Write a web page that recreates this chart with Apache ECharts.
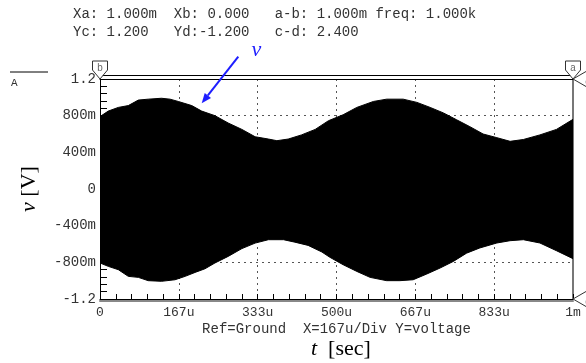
<!DOCTYPE html>
<html>
<head>
<meta charset="utf-8">
<script src="https://cdn.jsdelivr.net/npm/echarts@6/dist/echarts.min.js"></script>
<style>
  html, body { margin: 0; padding: 0; background: #fff; }
  #chart { width: 586px; height: 363px; }
</style>
</head>
<body>
<div id="chart"></div>
<script>
// Envelope of the modulated voltage trace (time in microseconds, volts)
const upperTime = [0, 17.5, 38.7, 59.8, 81, 102, 130, 148, 165.5, 194, 215, 243, 271, 300, 328, 356, 374, 398, 426, 455, 483, 514, 543, 578, 606, 641, 670, 698, 726, 754, 782, 810, 839, 867, 895, 930, 965, 1000];
const upperVolt = [0.79, 0.85, 0.89, 0.91, 0.97, 0.98, 0.99, 0.98, 0.955, 0.91, 0.85, 0.80, 0.72, 0.65, 0.57, 0.545, 0.527, 0.545, 0.59, 0.65, 0.745, 0.81, 0.89, 0.955, 0.98, 0.98, 0.945, 0.89, 0.83, 0.755, 0.68, 0.60, 0.56, 0.52, 0.54, 0.59, 0.65, 0.76];
const lowerTime = [0, 17.5, 38.7, 59.8, 81, 102, 130, 158.6, 180, 201, 222, 243, 271, 300, 328, 356, 388, 412, 440, 469, 486, 514, 543, 571, 606, 634, 662, 691, 719, 747, 775, 803, 839, 867, 895, 930, 965, 1000];
const lowerVolt = [-0.807, -0.844, -0.88, -0.953, -0.964, -1.0, -1.007, -0.99, -0.953, -0.91, -0.87, -0.807, -0.735, -0.65, -0.59, -0.553, -0.553, -0.58, -0.615, -0.687, -0.745, -0.826, -0.899, -0.964, -1.0, -1.0, -0.99, -0.927, -0.862, -0.79, -0.70, -0.643, -0.589, -0.564, -0.553, -0.589, -0.673, -0.76];

// Axis tick labels
const xTickLabels = ['0', '167u', '333u', '500u', '667u', '833u', '1m'];
const yTickLabels = ['-1.2', '-800m', '-400m', '0', '400m', '800m', '1.2'];

// Cursor readout
const headerLine1 = 'Xa: 1.000m  Xb: 0.000   a-b: 1.000m freq: 1.000k';
const headerLine2 = 'Yc: 1.200   Yd:-1.200   c-d: 2.400';
const footerText = 'Ref=Ground  X=167u/Div Y=voltage';

// Cursor positions (µs / V)
const cursorXa = 1000, cursorXb = 0, cursorYc = 1.2, cursorYd = -1.2;

const X_MIN = 0, X_MAX = 1000, X_STEP = 1000 / 6;
const Y_MIN = -1.2, Y_MAX = 1.2, Y_STEP = 0.4;

const MONO = '"Liberation Mono", "Courier New", monospace';
const SERIF = '"Liberation Serif", "Times New Roman", serif';
const BLUE = '#1e1eff';

const zip = (a, b) => a.map((t, i) => [t, b[i]]);

const chart = echarts.init(document.getElementById('chart'), null, { renderer: 'canvas' });

const dotted = { color: '#555', width: 1, type: [2, 4] };

const option = {
  animation: false,
  backgroundColor: '#fff',
  grid: { left: 100, right: 13, top: 79, bottom: 64, containLabel: false },
  xAxis: [
    {
      type: 'value', min: X_MIN, max: X_MAX, interval: X_STEP,
      axisLine: { show: true, onZero: false, lineStyle: { color: '#000', width: 1 } },
      axisTick: { show: true, inside: true, length: 5, lineStyle: { color: '#000' } },
      minorTick: { show: true, splitNumber: 5, length: 5, lineStyle: { color: '#000' } },
      splitLine: { show: true, lineStyle: dotted },
      axisLabel: {
        margin: 7, color: '#333', fontFamily: MONO, fontSize: 13,
        formatter: (v) => xTickLabels[Math.round(v / X_STEP)]
      }
    },
    {
      type: 'value', min: X_MIN, max: X_MAX, position: 'top',
      axisLine: { show: true, onZero: false, lineStyle: { color: '#000', width: 1 } },
      axisTick: { show: false }, axisLabel: { show: false }, splitLine: { show: false }
    },
    {
      type: 'value', min: X_MIN, max: X_MAX, position: 'top', offset: 4,
      axisLine: { show: true, onZero: false, lineStyle: { color: '#000', width: 1 } },
      axisTick: { show: false }, axisLabel: { show: false }, splitLine: { show: false }
    },
    {
      type: 'value', min: X_MIN, max: X_MAX, position: 'bottom', offset: 2,
      axisLine: { show: true, onZero: false, lineStyle: { color: '#888', width: 2 } },
      axisTick: { show: false }, axisLabel: { show: false }, splitLine: { show: false }
    }
  ],
  yAxis: [
    {
      type: 'value', min: Y_MIN, max: Y_MAX, interval: Y_STEP,
      axisLine: { show: true, onZero: false, lineStyle: { color: '#000', width: 1 } },
      axisTick: { show: true, inside: true, length: 7, lineStyle: { color: '#000' } },
      minorTick: { show: true, splitNumber: 5, length: 7, lineStyle: { color: '#000' } },
      splitLine: { show: true, lineStyle: dotted },
      axisLabel: {
        margin: 4, color: '#333', fontFamily: MONO, fontSize: 14,
        formatter: (v) => yTickLabels[Math.round((v - Y_MIN) / Y_STEP)]
      },
      name: '{i|v} [V]',
      nameLocation: 'middle', nameGap: 60, nameRotate: 90,
      nameTextStyle: {
        fontFamily: SERIF, fontSize: 22, color: '#000',
        rich: { i: { fontFamily: SERIF, fontSize: 22, fontStyle: 'italic', color: '#000' } }
      }
    },
    {
      type: 'value', min: Y_MIN, max: Y_MAX, position: 'right',
      axisLine: { show: true, onZero: false, lineStyle: { color: '#777', width: 2 } },
      axisTick: { show: false }, axisLabel: { show: false }, splitLine: { show: false }
    }
  ],
  series: [
    {
      name: 'v', type: 'line', xAxisIndex: 0, yAxisIndex: 0,
      data: zip(upperTime, upperVolt), symbol: 'none', silent: true,
      lineStyle: { color: '#000', width: 1 }, areaStyle: { color: '#000', opacity: 1 }
    },
    {
      name: 'v', type: 'line', xAxisIndex: 0, yAxisIndex: 0,
      data: zip(lowerTime, lowerVolt), symbol: 'none', silent: true,
      lineStyle: { color: '#000', width: 1 }, areaStyle: { color: '#000', opacity: 1 }
    }
  ]
};

chart.setOption(option);

// Cursor markers, annotation and text placed from data coordinates
const px = (t, v) => chart.convertToPixel({ gridIndex: 0 }, [t, v]);
const [xb, yTop] = px(cursorXb, Y_MAX);
const [xa] = px(cursorXa, Y_MAX);
const [xRight, yc] = px(X_MAX, cursorYc);
const [, yd] = px(X_MAX, cursorYd);
const [, yBottom] = px(X_MIN, Y_MIN);
const xMid = (xb + xa) / 2;

function topMarker(x, letter) {
  return [
    { type: 'polygon', z: 100,
      shape: { points: [[x - 7.5, yTop - 18], [x + 7.5, yTop - 18], [x + 7.5, yTop - 9], [x, yTop], [x - 7.5, yTop - 9]] },
      style: { fill: '#fff', stroke: '#333', lineWidth: 1 } },
    { type: 'text', z: 101, x: x, y: yTop - 11,
      style: { text: letter, fill: '#666', font: '10px ' + MONO, align: 'center', verticalAlign: 'middle' } }
  ];
}
function sideMarker(y, letter) {
  return [
    { type: 'polygon', z: 100,
      shape: { points: [[xRight, y], [xRight + 13, y - 7.5], [xRight + 22, y - 7.5], [xRight + 22, y + 7.5], [xRight + 13, y + 7.5]] },
      style: { fill: '#fff', stroke: '#333', lineWidth: 1 } },
    { type: 'text', z: 101, x: xRight + 12, y: y + 3,
      style: { text: letter, fill: '#666', font: '10px ' + MONO, align: 'left', verticalAlign: 'middle' } }
  ];
}

// Arrow pointing at the trace
const [tipX, tipY] = px(215, 0.935);
const tailX = tipX + 36.6, tailY = tipY - 46.6;
const len = Math.hypot(tailX - tipX, tailY - tipY);
const ux = (tipX - tailX) / len, uy = (tipY - tailY) / len;
const hb = [tipX - 10 * ux, tipY - 10 * uy];
const pxp = -uy, pyp = ux;

const graphics = [
  { type: 'text', x: 73, y: 14,
    style: { text: headerLine1, fill: '#333', font: '14px ' + MONO, verticalAlign: 'middle' } },
  { type: 'text', x: 73, y: 32,
    style: { text: headerLine2, fill: '#333', font: '14px ' + MONO, verticalAlign: 'middle' } },
  { type: 'line', shape: { x1: 10, y1: 72, x2: 48, y2: 72 }, style: { stroke: '#000', lineWidth: 1 } },
  { type: 'text', x: 11, y: 83,
    style: { text: 'A', fill: '#333', font: '11px ' + MONO, verticalAlign: 'middle' } },
  { type: 'text', x: xMid, y: 329,
    style: { text: footerText, fill: '#333', font: '14px ' + MONO, align: 'center', verticalAlign: 'middle' } },
  { type: 'text', x: 311, y: 349,
    style: { text: '{i|t}  [sec]', fill: '#000', font: '22px ' + SERIF, verticalAlign: 'middle',
      rich: { i: { fontStyle: 'italic', fontFamily: SERIF, fontSize: 22 } } } },
  { type: 'text', x: tailX + 18, y: tailY - 6,
    style: { text: 'v', fill: BLUE, font: 'italic 22px ' + SERIF, align: 'center', verticalAlign: 'middle' } },
  { type: 'line', z: 90, shape: { x1: tailX, y1: tailY, x2: hb[0], y2: hb[1] },
    style: { stroke: BLUE, lineWidth: 2 } },
  { type: 'polygon', z: 90,
    shape: { points: [[tipX, tipY], [hb[0] + 4 * pxp, hb[1] + 4 * pyp], [hb[0] - 4 * pxp, hb[1] - 4 * pyp]] },
    style: { fill: BLUE } }
].concat(topMarker(xb, 'b'), topMarker(xa, 'a'), sideMarker(yd, 'd'), sideMarker(yc, 'c'));

chart.setOption({ graphic: graphics });
</script>
</body>
</html>
